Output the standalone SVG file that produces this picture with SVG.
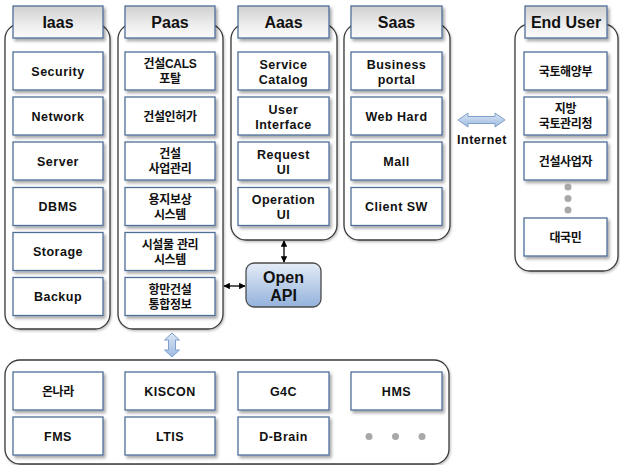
<svg xmlns="http://www.w3.org/2000/svg" width="620" height="465" viewBox="0 0 620 465">
  <defs>
    <linearGradient id="hdrGrad" x1="0" y1="0" x2="0" y2="1">
      <stop offset="0" stop-color="#cfcfcf"/>
      <stop offset="0.6" stop-color="#eeeeee"/>
      <stop offset="1" stop-color="#fafafa"/>
    </linearGradient>
    <linearGradient id="apiGrad" x1="0" y1="0" x2="0" y2="1">
      <stop offset="0" stop-color="#e4ecf7"/>
      <stop offset="1" stop-color="#94b2dc"/>
    </linearGradient>
    <linearGradient id="blockGrad" x1="0" y1="0" x2="0" y2="1">
      <stop offset="0" stop-color="#dbe6f4"/>
      <stop offset="1" stop-color="#9dbbe2"/>
    </linearGradient>
    <filter id="shadow" x="-10%" y="-10%" width="130%" height="140%">
      <feDropShadow dx="2" dy="2.5" stdDeviation="1.4" flood-color="#000" flood-opacity="0.35"/>
    </filter>
    <filter id="softShadow" x="-5%" y="-5%" width="115%" height="115%">
      <feDropShadow dx="1" dy="1.5" stdDeviation="1" flood-color="#000" flood-opacity="0.25"/>
    </filter>
    <marker id="ah" viewBox="0 0 10 10" refX="9" refY="5" markerWidth="5" markerHeight="5" orient="auto-start-reverse">
      <path d="M0,0 L10,5 L0,10 Z" fill="#000"/>
    </marker>
    <style>
      .cont { fill: #ffffff; stroke: #3a3a3a; stroke-width: 1.3; filter: url(#softShadow); }
      .hdr { fill: url(#hdrGrad); stroke: #4f6f99; stroke-width: 1.3; filter: url(#shadow); }
      .box { fill: #ffffff; stroke: #4f6f99; stroke-width: 1.3; filter: url(#shadow); }
      .api { fill: url(#apiGrad); stroke: #4a4a4a; stroke-width: 1.3; }
      .blk { fill: url(#blockGrad); stroke: #7f9fcb; stroke-width: 1; }
      .ht { font-family: "Liberation Sans", "Noto Sans CJK KR", sans-serif; font-weight: bold; font-size: 16px; fill: #111; text-anchor: middle; }
      .t { font-family: "Liberation Sans", "Noto Sans CJK KR", sans-serif; font-weight: bold; font-size: 12.5px; letter-spacing: 0.5px; fill: #111; text-anchor: middle; }
      .k { font-family: "Liberation Sans", "Noto Sans CJK KR", sans-serif; font-weight: bold; font-size: 12px; letter-spacing: -0.3px; fill: #111; text-anchor: middle; }
      .dot { fill: #a8a8a8; }
      .conn { stroke: #000; stroke-width: 1.3; fill: none; marker-start: url(#ah); marker-end: url(#ah); }
    </style>
  </defs>

  <!-- Iaas column -->
  <g id="iaas">
    <rect class="cont" x="5" y="24" width="105" height="305" rx="15"/>
    <rect class="hdr" x="13" y="6" width="90" height="32"/>
    <text class="ht" x="58" y="28">Iaas</text>
    <rect class="box" x="13" y="52" width="90" height="38"/>
    <text class="t" x="58" y="75.5">Security</text>
    <rect class="box" x="13" y="97" width="90" height="38"/>
    <text class="t" x="58" y="120.5">Network</text>
    <rect class="box" x="13" y="142" width="90" height="38"/>
    <text class="t" x="58" y="165.5">Server</text>
    <rect class="box" x="13" y="187.5" width="90" height="38"/>
    <text class="t" x="58" y="211">DBMS</text>
    <rect class="box" x="13" y="232.5" width="90" height="38"/>
    <text class="t" x="58" y="256">Storage</text>
    <rect class="box" x="13" y="277.5" width="90" height="38"/>
    <text class="t" x="58" y="301">Backup</text>
  </g>

  <!-- Paas column -->
  <g id="paas">
    <rect class="cont" x="118" y="24" width="105" height="305" rx="15"/>
    <rect class="hdr" x="125" y="6" width="90" height="32"/>
    <text class="ht" x="170" y="28">Paas</text>
    <rect class="box" x="125" y="52" width="90" height="38"/>
    <text class="k" x="170" y="68">건설CALS</text>
    <text class="k" x="170" y="83">포탈</text>
    <rect class="box" x="125" y="97" width="90" height="38"/>
    <text class="k" x="170" y="120.5">건설인허가</text>
    <rect class="box" x="125" y="142" width="90" height="38"/>
    <text class="k" x="170" y="158">건설</text>
    <text class="k" x="170" y="173">사업관리</text>
    <rect class="box" x="125" y="187.5" width="90" height="38"/>
    <text class="k" x="170" y="203.5">용지보상</text>
    <text class="k" x="170" y="218.5">시스템</text>
    <rect class="box" x="125" y="232.5" width="90" height="38"/>
    <text class="k" x="170" y="248.5">시설물 관리</text>
    <text class="k" x="170" y="263.5">시스템</text>
    <rect class="box" x="125" y="277.5" width="90" height="38"/>
    <text class="k" x="170" y="293.5">항만건설</text>
    <text class="k" x="170" y="308.5">통합정보</text>
  </g>

  <!-- Aaas column -->
  <g id="aaas">
    <rect class="cont" x="231" y="24" width="106" height="216" rx="15"/>
    <rect class="hdr" x="238" y="6" width="91" height="32"/>
    <text class="ht" x="283.5" y="28">Aaas</text>
    <rect class="box" x="238" y="52" width="91" height="38"/>
    <text class="t" x="283.5" y="68.5">Service</text>
    <text class="t" x="283.5" y="83.5">Catalog</text>
    <rect class="box" x="238" y="97" width="91" height="38"/>
    <text class="t" x="283.5" y="113.5">User</text>
    <text class="t" x="283.5" y="128.5">Interface</text>
    <rect class="box" x="238" y="142" width="91" height="38"/>
    <text class="t" x="283.5" y="158.5">Request</text>
    <text class="t" x="283.5" y="173.5">UI</text>
    <rect class="box" x="238" y="187.5" width="91" height="38"/>
    <text class="t" x="283.5" y="203.5">Operation</text>
    <text class="t" x="283.5" y="218.5">UI</text>
  </g>

  <!-- Saas column -->
  <g id="saas">
    <rect class="cont" x="344" y="24" width="106" height="216" rx="15"/>
    <rect class="hdr" x="351" y="6" width="91" height="32"/>
    <text class="ht" x="396.5" y="28">Saas</text>
    <rect class="box" x="351" y="52" width="91" height="38"/>
    <text class="t" x="396.5" y="68.5">Business</text>
    <text class="t" x="396.5" y="83.5">portal</text>
    <rect class="box" x="351" y="97" width="91" height="38"/>
    <text class="t" x="396.5" y="120.5">Web Hard</text>
    <rect class="box" x="351" y="142" width="91" height="38"/>
    <text class="t" x="396.5" y="165.5">Mall</text>
    <rect class="box" x="351" y="187.5" width="91" height="38"/>
    <text class="t" x="396.5" y="211">Client SW</text>
  </g>

  <!-- End User column -->
  <g id="enduser">
    <rect class="cont" x="515" y="24" width="103" height="247" rx="15"/>
    <rect class="hdr" x="525" y="6" width="82" height="32"/>
    <text class="ht" x="566" y="28">End User</text>
    <rect class="box" x="524" y="52" width="83" height="38"/>
    <text class="k" x="565.5" y="75.5">국토해양부</text>
    <rect class="box" x="524" y="97" width="83" height="38"/>
    <text class="k" x="565.5" y="113">지방</text>
    <text class="k" x="565.5" y="128">국토관리청</text>
    <rect class="box" x="524" y="142" width="83" height="38"/>
    <text class="k" x="565.5" y="165.5">건설사업자</text>
    <circle class="dot" cx="568" cy="187" r="3.5"/>
    <circle class="dot" cx="568" cy="198.5" r="3.5"/>
    <circle class="dot" cx="568" cy="210" r="3.5"/>
    <rect class="box" x="524" y="218" width="83" height="38"/>
    <text class="k" x="565.5" y="241.5">대국민</text>
  </g>

  <!-- Open API -->
  <g id="openapi">
    <rect class="api" x="246" y="263" width="75" height="44" rx="8"/>
    <text class="ht" x="283.5" y="282.5">Open</text>
    <text class="ht" x="283.5" y="300.5">API</text>
  </g>

  <!-- Internet link -->
  <g id="internet">
    <path class="blk" d="M458,120 L468,113 L468,116.5 L495,116.5 L495,113 L505,120 L495,127 L495,123.5 L468,123.5 L468,127 Z"/>
    <text class="t" x="482" y="143.5">Internet</text>
  </g>

  <!-- External systems -->
  <g id="external">
    <rect class="cont" x="5" y="360" width="444" height="104" rx="15"/>
    <rect class="box" x="13" y="372" width="90" height="38"/>
    <text class="k" x="58" y="395.5">온나라</text>
    <rect class="box" x="125" y="372" width="90" height="38"/>
    <text class="t" x="170" y="395.5">KISCON</text>
    <rect class="box" x="238" y="372" width="91" height="38"/>
    <text class="t" x="283.5" y="395.5">G4C</text>
    <rect class="box" x="351" y="372" width="91" height="38"/>
    <text class="t" x="396.5" y="395.5">HMS</text>
    <rect class="box" x="13" y="417" width="90" height="38"/>
    <text class="t" x="58" y="440.5">FMS</text>
    <rect class="box" x="125" y="417" width="90" height="38"/>
    <text class="t" x="170" y="440.5">LTIS</text>
    <rect class="box" x="238" y="417" width="91" height="38"/>
    <text class="t" x="283.5" y="440.5">D-Brain</text>
    <circle class="dot" cx="369" cy="436.5" r="3.5"/>
    <circle class="dot" cx="395.5" cy="436.5" r="3.5"/>
    <circle class="dot" cx="422" cy="436.5" r="3.5"/>
  </g>

  <!-- Connectors -->
  <g id="connectors">
    <line class="conn" x1="284" y1="241" x2="284" y2="262"/>
    <line class="conn" x1="224" y1="286" x2="245" y2="286"/>
    <path class="blk" d="M172,333 L179.5,340 L175.5,340 L175.5,350 L179.5,350 L172,357 L164.5,350 L168.5,350 L168.5,340 L164.5,340 Z"/>
  </g>
</svg>
